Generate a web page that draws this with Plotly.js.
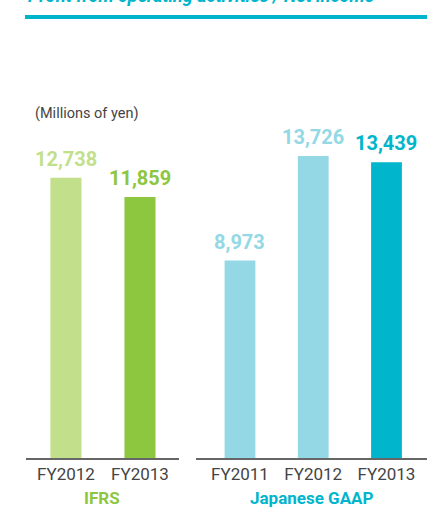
<!DOCTYPE html>
<html>
<head>
<meta charset="utf-8">
<script src="https://cdn.plot.ly/plotly-3.0.1.min.js"></script>
<style>html,body{margin:0;padding:0;background:#fff;}#chart{width:430px;height:510px;}</style>
</head>
<body>
<div id="chart"></div>
<script>
var ifrsYears = ["FY2012", "FY2013"];
var ifrsValues = [12738, 11859];
var jgaapYears = ["FY2011", "FY2012", "FY2013"];
var jgaapValues = [8973, 13726, 13439];
var ifrsColors = ["#c2df8b", "#8dc63f"];
var jgaapColors = ["#93d8e4", "#93d8e4", "#00b5cc"];
var ifrsLabel = "IFRS";
var jgaapLabel = "Japanese GAAP";
var unitLabel = "(Millions of yen)";
var titleText = "Profit from operating activities / Net income";

function fmt(v){ return v.toLocaleString("en-US"); }

var traces = [
  {type:"bar", x: ifrsYears, y: ifrsValues, xaxis:"x", yaxis:"y",
   marker:{color: ifrsColors}, hoverinfo:"none"},
  {type:"bar", x: jgaapYears, y: jgaapValues, xaxis:"x2", yaxis:"y",
   marker:{color: jgaapColors}, hoverinfo:"none"}
];

var annotations = [];
ifrsYears.forEach(function(c,i){
  annotations.push({xref:"x", yref:"y", x:c, y:ifrsValues[i], text:fmt(ifrsValues[i]),
    showarrow:false, yanchor:"bottom", yshift:5,
    font:{family:"Roboto", size:20, color: ifrsColors[i], weight:700}});
});
jgaapYears.forEach(function(c,i){
  annotations.push({xref:"x2", yref:"y", x:c, y:jgaapValues[i], text:fmt(jgaapValues[i]),
    showarrow:false, yanchor:"bottom", yshift:5,
    font:{family:"Roboto", size:20, color: i===2 ? "#00b5cc" : "#93d8e4", weight:700}});
});
annotations.push({xref:"paper", yref:"paper", x:0.018, y:0.978, xanchor:"left", yanchor:"middle",
  text:unitLabel, showarrow:false, font:{family:"Roboto", size:14.5, color:"#444"}});
annotations.push({xref:"paper", yref:"paper", x:0.19, y:-0.148, xanchor:"center", yanchor:"bottom",
  text:ifrsLabel, showarrow:false, font:{family:"Roboto", size:17, color:"#8dc63f", weight:700}});
annotations.push({xref:"paper", yref:"paper", x:0.712, y:-0.148, xanchor:"center", yanchor:"bottom",
  text:jgaapLabel, showarrow:false, font:{family:"Roboto", size:17, color:"#00b5cc", weight:700}});
annotations.push({xref:"paper", yref:"paper", x:0.0, y:1.278, xanchor:"left", yanchor:"bottom",
  text:"<i>"+titleText+"</i>", showarrow:false, font:{family:"Roboto", size:18, color:"#00b5cc", weight:700}});

var axisCommon = {type:"category", showline:true, linecolor:"#666", linewidth:1.5,
  showgrid:false, zeroline:false, ticks:"", fixedrange:true,
  tickfont:{family:"Roboto", size:17, color:"#444"}};

var layout = {
  width:430, height:510,
  margin:{l:26, r:3, t:106, b:52},
  paper_bgcolor:"#fff", plot_bgcolor:"#fff",
  showlegend:false, bargap:0.58,
  xaxis: Object.assign({}, axisCommon, {domain:[0, 0.3815], anchor:"y", range:[-0.54, 1.527]}),
  xaxis2: Object.assign({}, axisCommon, {domain:[0.424, 1], anchor:"y", range:[-0.6, 2.553]}),
  yaxis: {range:[0, 16000], visible:false, fixedrange:true},
  annotations: annotations,
  shapes:[{type:"rect", xref:"paper", yref:"paper", x0:-0.0025, x1:1.0, y0:1.2472, y1:1.2585,
    fillcolor:"#00b4cc", line:{width:0}}]
};

Plotly.newPlot("chart", traces, layout, {displayModeBar:false, staticPlot:true});
</script>
</body>
</html>
